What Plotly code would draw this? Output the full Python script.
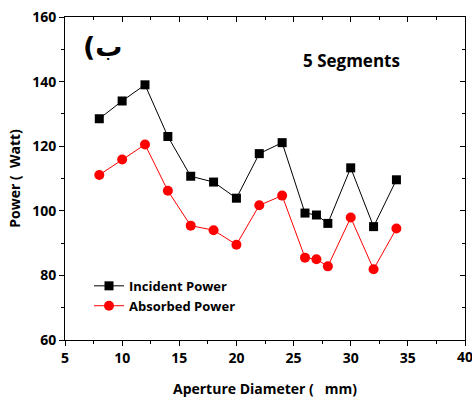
import plotly.graph_objects as go

aperture_mm = [8, 10, 12, 14, 16, 18, 20, 22, 24, 26, 27, 28, 30, 32, 34]
incident_power = [128.5, 134, 139, 123, 110.7, 108.9, 103.9, 117.7, 121.1, 99.3, 98.7, 96.1, 113.3, 95.1, 109.6]
absorbed_power = [111.1, 115.9, 120.5, 106.2, 95.4, 94, 89.5, 101.7, 104.7, 85.5, 85, 82.8, 97.9, 81.9, 94.5]
x_ticks = [5, 10, 15, 20, 25, 30, 35, 40]

FONT = "Open Sans"

fig = go.Figure()
fig.add_trace(go.Scatter(
    x=aperture_mm, y=incident_power, mode="lines+markers", name="Incident Power",
    line=dict(color="black", width=1),
    marker=dict(symbol="square", size=9, color="black"),
))
fig.add_trace(go.Scatter(
    x=aperture_mm, y=absorbed_power, mode="lines+markers", name="Absorbed Power",
    line=dict(color="red", width=1),
    marker=dict(symbol="circle", size=10, color="red"),
))
# invisible trace for mirrored axes
fig.add_trace(go.Scatter(x=[5], y=[60], xaxis="x2", yaxis="y2", mode="markers",
                         marker=dict(opacity=0), showlegend=False, hoverinfo="skip"))

axis_font = dict(family=FONT, size=14, color="black", weight="bold")

fig.update_layout(
    width=472, height=401,
    margin=dict(l=65, r=7, t=17, b=61),
    plot_bgcolor="white", paper_bgcolor="white",
    font=dict(family=FONT, color="black"),
    showlegend=True,
    legend=dict(x=0.06, y=0.214, xanchor="left", yanchor="top",
                bgcolor="rgba(0,0,0,0)",
                font=dict(family=FONT, size=13, color="black", weight="bold"),
                itemwidth=30, tracegroupgap=0),
    xaxis=dict(range=[5, 40], tickvals=x_ticks, ticktext=[str(v) for v in x_ticks],
               ticks="outside", ticklen=5, tickwidth=1,
               tickcolor="black", showline=True, linecolor="black", linewidth=1,
               showgrid=False, zeroline=False, tickfont=axis_font,
               minor=dict(ticks="outside", ticklen=3, dtick=2.5, tickcolor="black", tickwidth=1),
               title=dict(text="Aperture Diameter (   mm)", font=dict(family=FONT, size=14, color="black", weight="bold"), standoff=18)),
    yaxis=dict(range=[60, 160], tick0=60, dtick=20, ticks="outside", ticklen=5, tickwidth=1,
               tickcolor="black", showline=True, linecolor="black", linewidth=1,
               showgrid=False, zeroline=False, tickfont=axis_font,
               minor=dict(ticks="outside", ticklen=3, dtick=10, tickcolor="black", tickwidth=1),
               title=dict(text="Power (  Watt)", font=dict(family=FONT, size=14, color="black", weight="bold"), standoff=8)),
    xaxis2=dict(range=[5, 40], overlaying="x", side="top", anchor="y2", dtick=5, tick0=5,
                ticks="inside", ticklen=5, tickcolor="black", showticklabels=False,
                showline=True, linecolor="black", showgrid=False, zeroline=False,
                minor=dict(ticks="inside", ticklen=3, dtick=2.5, tickcolor="black")),
    yaxis2=dict(range=[60, 160], overlaying="y", side="right", anchor="x2", dtick=20, tick0=60,
                ticks="inside", ticklen=5, tickcolor="black", showticklabels=False,
                showline=True, linecolor="black", showgrid=False, zeroline=False,
                minor=dict(ticks="inside", ticklen=3, dtick=10, tickcolor="black")),
    annotations=[
        dict(text="(ب", x=0.04, y=0.91, xref="paper", yref="paper", showarrow=False,
             xanchor="left", yanchor="middle", font=dict(family="DejaVu Sans", size=27, color="black", weight="bold")),
        dict(text="5 Segments", x=0.717, y=0.865, xref="paper", yref="paper", showarrow=False,
             xanchor="center", yanchor="middle", font=dict(family=FONT, size=17, color="black", weight="bold")),
        dict(text=str(x_ticks[-1]), x=x_ticks[-1], y=0, xref="x", yref="paper", showarrow=False,
             xanchor="center", yanchor="top", yshift=-5, font=axis_font),
    ],
)

fig.write_html("out.html")
